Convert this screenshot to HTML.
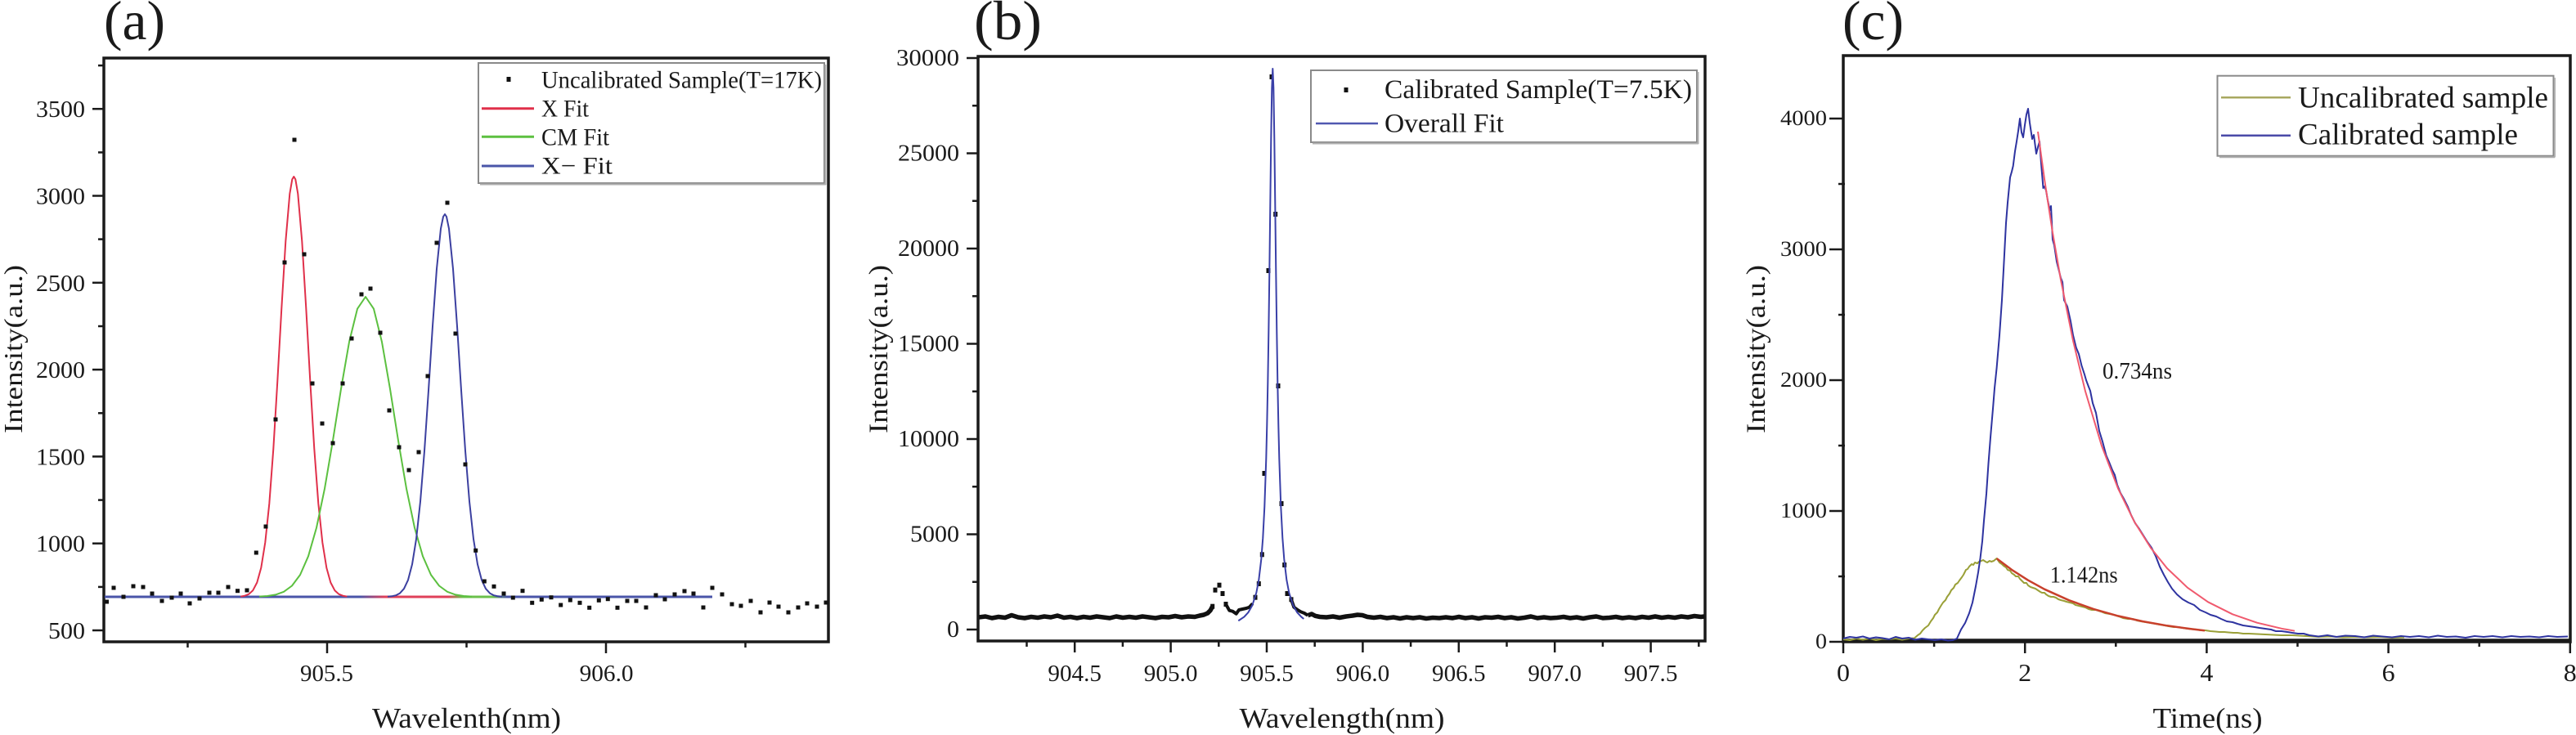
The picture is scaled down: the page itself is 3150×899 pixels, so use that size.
<!DOCTYPE html>
<html><head><meta charset="utf-8"><style>
html,body{margin:0;padding:0;background:#fff;}
svg{display:block;}
text{font-family:"Liberation Serif","Times New Roman",serif;fill:#1a1a1a;}
</style></head><body>
<svg width="3150" height="899" viewBox="0 0 3150 899" xmlns="http://www.w3.org/2000/svg">
<rect width="3150" height="899" fill="#fff"/>
<defs>
<linearGradient id="bg" x1="440" y1="0" x2="620" y2="0" gradientUnits="userSpaceOnUse">
<stop offset="0" stop-color="#4a55a8"/><stop offset="0.17" stop-color="#e0405a"/><stop offset="0.6" stop-color="#e0405a"/><stop offset="0.7" stop-color="#6cc04c"/><stop offset="0.9" stop-color="#6cc04c"/><stop offset="1" stop-color="#4a55a8"/>
</linearGradient>
</defs>

<!-- ================= PANEL (a) ================= -->
<text x="127" y="48" font-size="68" textLength="75" lengthAdjust="spacingAndGlyphs">(a)</text>
<rect x="127" y="71" width="886" height="714" fill="none" stroke="#1a1a1a" stroke-width="3.5"/>
<g stroke="#1a1a1a" stroke-width="2.5">
<line x1="113" y1="771" x2="127" y2="771"/><line x1="113" y1="664.7" x2="127" y2="664.7"/><line x1="113" y1="558.4" x2="127" y2="558.4"/><line x1="113" y1="452.1" x2="127" y2="452.1"/><line x1="113" y1="345.8" x2="127" y2="345.8"/><line x1="113" y1="239.5" x2="127" y2="239.5"/><line x1="113" y1="133.2" x2="127" y2="133.2"/>
<line x1="120" y1="717.9" x2="127" y2="717.9"/><line x1="120" y1="611.6" x2="127" y2="611.6"/><line x1="120" y1="505.3" x2="127" y2="505.3"/><line x1="120" y1="399" x2="127" y2="399"/><line x1="120" y1="292.6" x2="127" y2="292.6"/><line x1="120" y1="186.4" x2="127" y2="186.4"/><line x1="120" y1="80.1" x2="127" y2="80.1"/>
<line x1="400" y1="785" x2="400" y2="799"/><line x1="741" y1="785" x2="741" y2="799"/>
<line x1="229.5" y1="785" x2="229.5" y2="792"/><line x1="570.5" y1="785" x2="570.5" y2="792"/><line x1="911.5" y1="785" x2="911.5" y2="792"/>
</g>
<g font-size="28">
<text x="59" y="781" textLength="45" lengthAdjust="spacingAndGlyphs">500</text>
<text x="44" y="674.7" textLength="60" lengthAdjust="spacingAndGlyphs">1000</text>
<text x="44" y="568.4" textLength="60" lengthAdjust="spacingAndGlyphs">1500</text>
<text x="44" y="462.1" textLength="60" lengthAdjust="spacingAndGlyphs">2000</text>
<text x="44" y="355.8" textLength="60" lengthAdjust="spacingAndGlyphs">2500</text>
<text x="44" y="249.5" textLength="60" lengthAdjust="spacingAndGlyphs">3000</text>
<text x="44" y="143.2" textLength="60" lengthAdjust="spacingAndGlyphs">3500</text>
<text x="367" y="833" font-size="29" textLength="65" lengthAdjust="spacingAndGlyphs">905.5</text>
<text x="708.6" y="833" font-size="29" textLength="66" lengthAdjust="spacingAndGlyphs">906.0</text>
</g>
<text x="455" y="890" font-size="35" textLength="231" lengthAdjust="spacingAndGlyphs">Wavelenth(nm)</text>
<text transform="translate(27,530) rotate(-90)" font-size="32" textLength="206" lengthAdjust="spacingAndGlyphs">Intensity(a.u.)</text>

<!-- baseline -->
<line x1="128" y1="730" x2="871" y2="730" stroke="#4a55a8" stroke-width="3"/>
<line x1="440" y1="730" x2="620" y2="730" stroke="url(#bg)" stroke-width="3"/>
<g fill="none" stroke-width="2" stroke-linejoin="round">
<polyline stroke="#e0304a" points="294.3,729.6 299.3,728.7 304.3,726.7 309.3,722.1 314.3,712.5 319.3,694.5 324.3,663.5 329.3,616 334.3,549 339.3,466 344.3,377 349.3,295 354.3,237 357.3,219.4 359.3,216 361.3,219.4 364.3,237 369.3,295 374.3,377 379.3,466 384.3,549 389.3,616 394.3,663.5 399.3,694.5 404.3,712.5 409.3,722.1 414.3,726.7 419.3,728.7 424.3,729.6"/>
<polyline stroke="#5cc040" points="317,729.6 327,729 337,727.4 347,723.8 357,716.5 367,703.1 377,680.3 387,645.5 397,597.7 407,539 417,475.8 427,418.3 437,377.7 447,363 457,377.7 467,418.3 477,475.8 487,539 497,597.7 507,645.5 517,680.3 527,703.1 537,716.5 547,723.8 557,727.4 567,729 577,729.6"/>
<polyline stroke="#3c40a0" points="474,729.75 479,729.3 484,728.2 489,725.6 494,720.1 499,709.4 504,690.3 509,659.3 514,613.3 519,551.6 524,477.6 529,399.2 534,329 539,279.7 542,265 544,262 546,265 549,279.7 554,329 559,399.2 564,477.6 569,551.6 574,613.3 579,659.3 584,690.3 589,709.4 594,720.1 599,725.6 604,728.2 609,729.3 614,729.75"/>
</g>
<g fill="#111">
<rect x="128" y="733.5" width="5" height="5"/><rect x="136.5" y="716.5" width="5" height="5"/><rect x="148.5" y="727.5" width="5" height="5"/><rect x="160.5" y="714.5" width="5" height="5"/><rect x="172.5" y="715.5" width="5" height="5"/><rect x="183.5" y="723.5" width="5" height="5"/><rect x="195.5" y="732.5" width="5" height="5"/><rect x="207.5" y="728.5" width="5" height="5"/><rect x="218.5" y="723.5" width="5" height="5"/><rect x="229.5" y="735.5" width="5" height="5"/><rect x="241.5" y="729.5" width="5" height="5"/><rect x="253.5" y="722.5" width="5" height="5"/><rect x="264.5" y="722.5" width="5" height="5"/><rect x="276.5" y="715.5" width="5" height="5"/><rect x="288" y="720.2" width="5" height="5"/><rect x="299.5" y="719.5" width="5" height="5"/>
<rect x="310.8" y="673.5" width="5" height="5"/><rect x="322.5" y="641.5" width="5" height="5"/><rect x="334.5" y="510.5" width="5" height="5"/><rect x="345.5" y="318.5" width="5" height="5"/><rect x="357.5" y="168.5" width="5" height="5"/><rect x="369.5" y="308.5" width="5" height="5"/><rect x="379.5" y="466.5" width="5" height="5"/><rect x="391.5" y="515.5" width="5" height="5"/><rect x="404.5" y="539.5" width="5" height="5"/><rect x="416.5" y="466.5" width="5" height="5"/><rect x="427.5" y="411.5" width="5" height="5"/><rect x="439.5" y="357.5" width="5" height="5"/><rect x="450.5" y="350.5" width="5" height="5"/><rect x="462.5" y="404.5" width="5" height="5"/><rect x="473.5" y="499.5" width="5" height="5"/><rect x="485.5" y="544.5" width="5" height="5"/><rect x="497.5" y="572.5" width="5" height="5"/><rect x="509.5" y="550.5" width="5" height="5"/><rect x="520.5" y="457.5" width="5" height="5"/><rect x="531.5" y="294.5" width="5" height="5"/><rect x="544.5" y="245.5" width="5" height="5"/><rect x="554.5" y="405.5" width="5" height="5"/><rect x="566.5" y="565.5" width="5" height="5"/><rect x="579.2" y="670.8" width="5" height="5"/><rect x="589.8" y="708.5" width="5" height="5"/><rect x="601.5" y="714.8" width="5" height="5"/><rect x="613.5" y="723.5" width="5" height="5"/><rect x="624.8" y="728.5" width="5" height="5"/><rect x="636.5" y="720.2" width="5" height="5"/><rect x="648.2" y="734.8" width="5" height="5"/><rect x="659.8" y="730.8" width="5" height="5"/><rect x="671.5" y="728.2" width="5" height="5"/><rect x="683.2" y="737.5" width="5" height="5"/><rect x="694.8" y="731.5" width="5" height="5"/><rect x="706.5" y="734.8" width="5" height="5"/><rect x="718.2" y="740.8" width="5" height="5"/><rect x="729.8" y="731.8" width="5" height="5"/><rect x="740.8" y="730.2" width="5" height="5"/><rect x="752.5" y="740.8" width="5" height="5"/><rect x="764.5" y="732.5" width="5" height="5"/><rect x="775.5" y="732.5" width="5" height="5"/><rect x="787.5" y="740.5" width="5" height="5"/><rect x="799.5" y="725.5" width="5" height="5"/><rect x="810.5" y="730.5" width="5" height="5"/><rect x="822.5" y="724.5" width="5" height="5"/><rect x="834.5" y="720.5" width="5" height="5"/><rect x="845.5" y="723.5" width="5" height="5"/><rect x="857.5" y="740.5" width="5" height="5"/><rect x="868.5" y="716.5" width="5" height="5"/><rect x="880.5" y="724.5" width="5" height="5"/><rect x="892.5" y="736.5" width="5" height="5"/><rect x="903.5" y="738.5" width="5" height="5"/><rect x="915.5" y="732.5" width="5" height="5"/><rect x="927.5" y="746.5" width="5" height="5"/><rect x="938.5" y="734.5" width="5" height="5"/><rect x="949.5" y="739.5" width="5" height="5"/><rect x="961.5" y="746.5" width="5" height="5"/><rect x="973.5" y="740.5" width="5" height="5"/><rect x="984.5" y="735.5" width="5" height="5"/><rect x="996.5" y="739.5" width="5" height="5"/><rect x="1007.5" y="734.5" width="5" height="5"/>
</g>
<!-- legend a -->
<rect x="585" y="77" width="423" height="147" fill="#fff" stroke="#8a8a8a" stroke-width="2"/>
<line x1="1009.5" y1="79" x2="1009.5" y2="226" stroke="#b0b0b0" stroke-width="2"/>
<line x1="587" y1="225.5" x2="1010" y2="225.5" stroke="#b0b0b0" stroke-width="2"/>
<rect x="619.5" y="94" width="5" height="6" fill="#111"/>
<line x1="589" y1="132.7" x2="653" y2="132.7" stroke="#e0304a" stroke-width="3"/>
<line x1="589" y1="167.3" x2="653" y2="167.3" stroke="#5cc040" stroke-width="3"/>
<line x1="589" y1="203" x2="653" y2="203" stroke="#4a55a8" stroke-width="3"/>
<g font-size="30">
<text x="662" y="107.3" textLength="343" lengthAdjust="spacingAndGlyphs">Uncalibrated Sample(T=17K)</text>
<text x="662" y="142.7" textLength="58" lengthAdjust="spacingAndGlyphs">X Fit</text>
<text x="662" y="177.3" textLength="83" lengthAdjust="spacingAndGlyphs">CM Fit</text>
<text x="662" y="212.7" textLength="87" lengthAdjust="spacingAndGlyphs">X− Fit</text>
</g>

<!-- ================= PANEL (b) ================= -->
<text x="1191" y="48" font-size="68" textLength="83" lengthAdjust="spacingAndGlyphs">(b)</text>
<rect x="1196" y="69" width="889" height="715" fill="none" stroke="#1a1a1a" stroke-width="3.5"/>
<g stroke="#1a1a1a" stroke-width="2.5">
<line x1="1182" y1="770" x2="1196" y2="770"/><line x1="1182" y1="653.5" x2="1196" y2="653.5"/><line x1="1182" y1="537" x2="1196" y2="537"/><line x1="1182" y1="420.5" x2="1196" y2="420.5"/><line x1="1182" y1="304" x2="1196" y2="304"/><line x1="1182" y1="187.5" x2="1196" y2="187.5"/><line x1="1182" y1="71" x2="1196" y2="71"/>
<line x1="1189" y1="711.75" x2="1196" y2="711.75"/><line x1="1189" y1="595.25" x2="1196" y2="595.25"/><line x1="1189" y1="478.75" x2="1196" y2="478.75"/><line x1="1189" y1="362.25" x2="1196" y2="362.25"/><line x1="1189" y1="245.75" x2="1196" y2="245.75"/><line x1="1189" y1="129.25" x2="1196" y2="129.25"/>
<line x1="1314.2" y1="784" x2="1314.2" y2="798"/><line x1="1431.6" y1="784" x2="1431.6" y2="798"/><line x1="1549" y1="784" x2="1549" y2="798"/><line x1="1666.4" y1="784" x2="1666.4" y2="798"/><line x1="1783.8" y1="784" x2="1783.8" y2="798"/><line x1="1901.2" y1="784" x2="1901.2" y2="798"/><line x1="2018.6" y1="784" x2="2018.6" y2="798"/>
<line x1="1255.5" y1="784" x2="1255.5" y2="791"/><line x1="1372.9" y1="784" x2="1372.9" y2="791"/><line x1="1490.3" y1="784" x2="1490.3" y2="791"/><line x1="1607.7" y1="784" x2="1607.7" y2="791"/><line x1="1725.1" y1="784" x2="1725.1" y2="791"/><line x1="1842.5" y1="784" x2="1842.5" y2="791"/><line x1="1959.9" y1="784" x2="1959.9" y2="791"/><line x1="2077.3" y1="784" x2="2077.3" y2="791"/>
</g>
<g font-size="28">
<text x="1158" y="779" textLength="15" lengthAdjust="spacingAndGlyphs">0</text>
<text x="1113" y="662.5" textLength="60" lengthAdjust="spacingAndGlyphs">5000</text>
<text x="1098" y="546" textLength="75" lengthAdjust="spacingAndGlyphs">10000</text>
<text x="1098" y="429.5" textLength="75" lengthAdjust="spacingAndGlyphs">15000</text>
<text x="1098" y="313" textLength="75" lengthAdjust="spacingAndGlyphs">20000</text>
<text x="1098" y="196.5" textLength="75" lengthAdjust="spacingAndGlyphs">25000</text>
<text x="1096" y="80" textLength="77" lengthAdjust="spacingAndGlyphs">30000</text>
</g>
<g font-size="29">
<text x="1281.4" y="833" textLength="65.6" lengthAdjust="spacingAndGlyphs">904.5</text>
<text x="1398.8" y="833" textLength="65.6" lengthAdjust="spacingAndGlyphs">905.0</text>
<text x="1516.2" y="833" textLength="65.6" lengthAdjust="spacingAndGlyphs">905.5</text>
<text x="1633.6" y="833" textLength="65.6" lengthAdjust="spacingAndGlyphs">906.0</text>
<text x="1751" y="833" textLength="65.6" lengthAdjust="spacingAndGlyphs">906.5</text>
<text x="1868.4" y="833" textLength="65.6" lengthAdjust="spacingAndGlyphs">907.0</text>
<text x="1985.8" y="833" textLength="65.6" lengthAdjust="spacingAndGlyphs">907.5</text>
</g>
<text x="1515.5" y="890" font-size="35" textLength="251" lengthAdjust="spacingAndGlyphs">Wavelength(nm)</text>
<text transform="translate(1085,530) rotate(-90)" font-size="33" textLength="206" lengthAdjust="spacingAndGlyphs">Intensity(a.u.)</text>

<g fill="none" stroke="#111" stroke-linejoin="round">
<polyline stroke-width="5.5" points="1197,755 1205,754 1213,756 1221,754.5 1229,755.5 1237,752.5 1245,755 1253,756 1261,754.5 1269,755.5 1277,754 1285,755 1293,753 1301,755.5 1309,754.5 1317,756 1325,754.5 1333,755.5 1341,754 1349,755 1357,756 1365,754 1373,755.5 1381,754.5 1389,755.5 1397,754 1405,755 1413,756 1421,754.5 1429,755 1437,753.5 1445,755 1453,754 1461,754.5 1467,753 1472,752 1476.7,750 1480,746.7 1482.7,741.7"/>
<polyline stroke-width="4" points="1499,739 1503.3,746.7 1507.3,747.7 1511.7,750.7 1515,746 1519.3,745 1524,744 1527.7,742.7 1531.7,738.3"/>
<polyline stroke-width="4" points="1579,733.3 1582.3,742.7 1586.7,746 1590.7,748.3 1595,750 1599.3,752.7"/>
<polyline stroke-width="5.5" points="1599.3,752.7 1604,751 1608.3,753.3 1614,754.5 1622,755 1630,754 1638,755.5 1646,754 1654,753 1660,752 1666,752.5 1672,754.5 1680,755.5 1688,754.5 1696,756 1704,755 1712,756.5 1720,755 1728,756 1736,755 1744,756.5 1752,755.5 1760,756 1768,755 1776,756 1784,754.5 1792,756 1800,755 1808,756.5 1816,755 1824,755.5 1832,754.5 1840,756 1848,755 1856,756.5 1864,755.5 1872,754 1880,756 1888,755 1896,756 1904,755.5 1912,754.5 1920,756 1928,755 1936,756.5 1944,755 1952,754 1960,756 1968,755.5 1976,754.5 1984,756 1992,755 2000,756 2008,754.5 2016,755.5 2024,754 2032,755.5 2040,754.5 2048,755.5 2056,754 2064,755 2072,753.5 2080,754.5 2084,754"/>
</g>
<g fill="#111">
<rect x="1552.5" y="91" width="5" height="6"/><rect x="1557.2" y="259" width="5" height="6"/><rect x="1548.5" y="328" width="5" height="6"/><rect x="1560.5" y="469" width="5" height="6"/><rect x="1543.5" y="576" width="5" height="6"/><rect x="1564.5" y="613" width="5" height="6"/><rect x="1540.8" y="675.3" width="5" height="6"/><rect x="1568.2" y="688" width="5" height="6"/><rect x="1536.8" y="711" width="5" height="6"/><rect x="1571.5" y="723" width="5" height="6"/><rect x="1532.5" y="727.7" width="5" height="6"/><rect x="1576.5" y="730.3" width="5" height="6"/>
<rect x="1480.2" y="738.7" width="5" height="6"/><rect x="1483.5" y="718.7" width="5" height="6"/><rect x="1488.5" y="712.7" width="5" height="6"/><rect x="1492.5" y="723" width="5" height="6"/><rect x="1496.5" y="736" width="5" height="6"/>
</g>
<polyline fill="none" stroke="#3a40a8" stroke-width="2" stroke-linejoin="round" points="1514.3,759.25 1521.3,754.6 1526.3,749.2 1531.3,740.5 1536.3,725 1539.3,709.2 1542.3,684 1544.3,658.1 1546.3,619.6 1548.3,561 1549.3,520 1550.3,469.4 1551.3,407 1552.3,333 1553.3,250.3 1554.3,169.3 1555.3,107.6 1556.3,84 1557.3,107.6 1558.3,169.3 1559.3,250.3 1560.3,333 1561.3,407 1562.3,469.4 1563.3,520 1564.3,561 1566.3,619.6 1568.3,658.1 1570.3,684 1573.3,709.2 1576.3,725 1581.3,740.5 1586.3,749.2 1591.3,754.6 1594.3,756.9"/>
<!-- legend b -->
<rect x="1603" y="86" width="472" height="88" fill="#fff" stroke="#8a8a8a" stroke-width="2"/>
<line x1="2076.5" y1="88" x2="2076.5" y2="176" stroke="#b0b0b0" stroke-width="2"/>
<line x1="1605" y1="175.5" x2="2077" y2="175.5" stroke="#b0b0b0" stroke-width="2"/>
<rect x="1643.5" y="107" width="5" height="6" fill="#111"/>
<line x1="1609" y1="151" x2="1685" y2="151" stroke="#5058b0" stroke-width="2.5"/>
<g font-size="33">
<text x="1693" y="120" textLength="376" lengthAdjust="spacingAndGlyphs">Calibrated Sample(T=7.5K)</text>
<text x="1693" y="161.7" textLength="146" lengthAdjust="spacingAndGlyphs">Overall Fit</text>
</g>

<!-- ================= PANEL (c) ================= -->
<text x="2253" y="48" font-size="68" textLength="75" lengthAdjust="spacingAndGlyphs">(c)</text>
<rect x="2254" y="68" width="889" height="717" fill="none" stroke="#1a1a1a" stroke-width="3.5"/>
<line x1="2254" y1="783.5" x2="3143" y2="783.5" stroke="#1a1a1a" stroke-width="4.5"/>
<g stroke="#1a1a1a" stroke-width="2.5">
<line x1="2237" y1="785" x2="2254" y2="785"/><line x1="2237" y1="625" x2="2254" y2="625"/><line x1="2237" y1="465" x2="2254" y2="465"/><line x1="2237" y1="305" x2="2254" y2="305"/><line x1="2237" y1="145" x2="2254" y2="145"/>
<line x1="2248" y1="705" x2="2256" y2="705"/><line x1="2248" y1="545" x2="2256" y2="545"/><line x1="2248" y1="385" x2="2256" y2="385"/><line x1="2248" y1="225" x2="2256" y2="225"/>
<line x1="2254" y1="785" x2="2254" y2="799"/><line x1="2476.2" y1="785" x2="2476.2" y2="799"/><line x1="2698.4" y1="785" x2="2698.4" y2="799"/><line x1="2920.6" y1="785" x2="2920.6" y2="799"/><line x1="3142.8" y1="785" x2="3142.8" y2="799"/>
<line x1="2365.1" y1="785" x2="2365.1" y2="791"/><line x1="2587.3" y1="785" x2="2587.3" y2="791"/><line x1="2809.5" y1="785" x2="2809.5" y2="791"/><line x1="3031.7" y1="785" x2="3031.7" y2="791"/>
</g>
<g font-size="26">
<text x="2220" y="793" textLength="14" lengthAdjust="spacingAndGlyphs">0</text>
<text x="2177" y="633" textLength="57" lengthAdjust="spacingAndGlyphs">1000</text>
<text x="2177" y="473" textLength="57" lengthAdjust="spacingAndGlyphs">2000</text>
<text x="2177" y="313" textLength="57" lengthAdjust="spacingAndGlyphs">3000</text>
<text x="2177" y="153" textLength="57" lengthAdjust="spacingAndGlyphs">4000</text>
</g>
<g font-size="31">
<text x="2246" y="833" textLength="16" lengthAdjust="spacingAndGlyphs">0</text>
<text x="2468.2" y="833" textLength="16" lengthAdjust="spacingAndGlyphs">2</text>
<text x="2690.4" y="833" textLength="16" lengthAdjust="spacingAndGlyphs">4</text>
<text x="2912.6" y="833" textLength="16" lengthAdjust="spacingAndGlyphs">6</text>
<text x="3134.8" y="833" textLength="16" lengthAdjust="spacingAndGlyphs">8</text>
</g>
<text x="2632.5" y="890" font-size="35" textLength="134" lengthAdjust="spacingAndGlyphs">Time(ns)</text>
<text transform="translate(2158,530) rotate(-90)" font-size="33" textLength="206" lengthAdjust="spacingAndGlyphs">Intensity(a.u.)</text>

<g fill="none" stroke-width="2" stroke-linejoin="round">
<polyline stroke="#9aa038" points="2254,782 2262,783 2270,781 2278,782.5 2286,781 2294,783 2302,781.5 2310,782 2318,781 2326,782.5 2334,781 2341,780.5 2345,777 2348,775 2351,771 2354,768 2358,765 2361,760 2364,756 2366,752 2369,749 2371,745 2374,740 2376,737 2379,734 2381,730 2384,726 2386,722 2389,719 2391,715 2394,713 2396,710 2399,706 2401,703 2404,697 2406,696 2408,693 2411,690 2413,691 2415,688 2418,689 2420,687 2423,686 2425,685 2428,687 2430,688 2433,686 2435,687 2438,686 2441.6,683 2445,688 2448,690 2450,692 2453,694 2455,697 2458,698 2460,701 2463,703 2465,705 2468,705 2470,708 2473,711 2475,713 2478,713 2480,716 2483,718 2486,719 2489,720 2492,722 2495,724 2497,725 2500,725 2502,727 2505,729 2508,730 2511,730 2514,731 2517,733 2520,734 2524,735 2527,736 2531,737 2535,738 2538,740 2542,741 2546,742 2550,743 2554,745 2558,746 2563,746 2569,748 2574,750 2580,751 2585,752 2591,754 2596,756 2602,757 2608,757 2613,759 2618,760 2624,761 2630,762 2636,763 2641,764 2647,765 2652,766 2658,767 2664,767 2669,768 2675,769 2680,769.5 2686,770 2691,771 2697,771 2703,772 2709,772.5 2714,773 2720,773 2725,773.5 2731,774 2736,774 2743,775 2750,775 2760,775.5 2770,776 2780,776.5 2790,777 2803,777 2820,778 2835,779 2850,778.5 2865,779.5 2880,779 2895,779.5 2910,779 2925,780 2940,779.5"/>
<polyline stroke="#2e33a0" points="2254,781 2262,779 2270,780 2278,778.5 2286,781 2294,779.5 2302,780.5 2310,782 2318,779 2326,781 2334,780 2342,782.5 2350,781 2358,782 2366,783 2374,782 2382,783.5 2388,783 2393,781 2398,770 2403,762 2408,750 2412,737 2416,717 2419,700 2421.5,683 2424,662 2426,637 2429,604 2431.5,567 2434,535 2437,500 2439,475 2441.6,450 2445,410 2448,367 2450,330 2453,273 2455,248 2458,217 2460,210 2461.7,203 2464,185 2466,173 2468,160 2470,145 2472,162 2474,168 2476,153 2478,140 2480,133 2482,150 2485,170 2487,165 2490,188 2492,180 2494,173 2496,200 2498.5,230 2500,228 2502,233 2504,245 2506.6,257 2508,252 2510,293 2512,300 2515,320 2518,332 2520,340 2522,345 2524,367 2528,375 2532,393 2535,410 2538.7,425 2542,433 2545.4,447 2549,458 2551,465 2554,473 2556,478 2559,493 2563,505 2567,527 2571,540 2575.5,557 2579,565 2583,575 2586,581 2589,593 2593,603 2597,610 2602,620 2606,630 2611,640 2616,647 2621,655 2626,663 2631,670 2636,680 2641,693 2646,703 2651,712 2656,720 2662,727 2669,733 2676,737 2683,740 2690,746 2697,749 2703,752 2710,754 2716,757 2723,760 2730,761 2736,763 2743,765 2750,766 2757,767 2763,768 2770,769 2777,770 2783,772 2790,772 2797,773 2803,774 2810,775 2817,775 2824,777 2835,778.5 2846,777 2857,779 2868,777.5 2880,778 2891,779.5 2902,777.5 2913,778.5 2925,779.5 2936,778 2947,779 2958,778 2970,779.5 2981,777.5 2992,779 3003,778.5 3015,780 3026,778 3037,779 3048,778 3060,779.5 3071,778 3082,779 3093,778.5 3105,779.5 3116,778 3127,779 3140,778.5"/>
<polyline stroke="#f05a6e" points="2492,161 2500,219.3 2510,284.5 2520,342.3 2535,416.7 2550,478.6 2570,545.3 2590,597.4 2610,638.2 2630,670.1 2650,695.1 2675,718.8 2700,736.3 2730,751.3 2760,761.7 2790,768.8 2806,771.7"/>
<polyline stroke="#c8402c" stroke-width="2.5" points="2441.6,683.1 2460,696.9 2480,709.7 2500,720.7 2530,734.2 2560,744.9 2590,753.4 2620,760 2650,765.3 2680,769.4 2696,771.3"/>
</g>
<text x="2571" y="463" font-size="28" textLength="85" lengthAdjust="spacingAndGlyphs">0.734ns</text>
<text x="2506.7" y="712.7" font-size="28" textLength="83" lengthAdjust="spacingAndGlyphs">1.142ns</text>
<!-- legend c -->
<rect x="2711.5" y="92.7" width="411" height="98" fill="#fff" stroke="#8a8a8a" stroke-width="2"/>
<line x1="3124" y1="95" x2="3124" y2="192.5" stroke="#b0b0b0" stroke-width="2"/>
<line x1="2714" y1="192.2" x2="3124" y2="192.2" stroke="#b0b0b0" stroke-width="2"/>
<line x1="2716" y1="119.3" x2="2801" y2="119.3" stroke="#a8a860" stroke-width="2.5"/>
<line x1="2716" y1="165.7" x2="2801" y2="165.7" stroke="#4a4aa8" stroke-width="2.5"/>
<g font-size="37">
<text x="2810" y="131.7" textLength="306" lengthAdjust="spacingAndGlyphs">Uncalibrated sample</text>
<text x="2810" y="176.7" textLength="269" lengthAdjust="spacingAndGlyphs">Calibrated sample</text>
</g>
</svg>
</body></html>
